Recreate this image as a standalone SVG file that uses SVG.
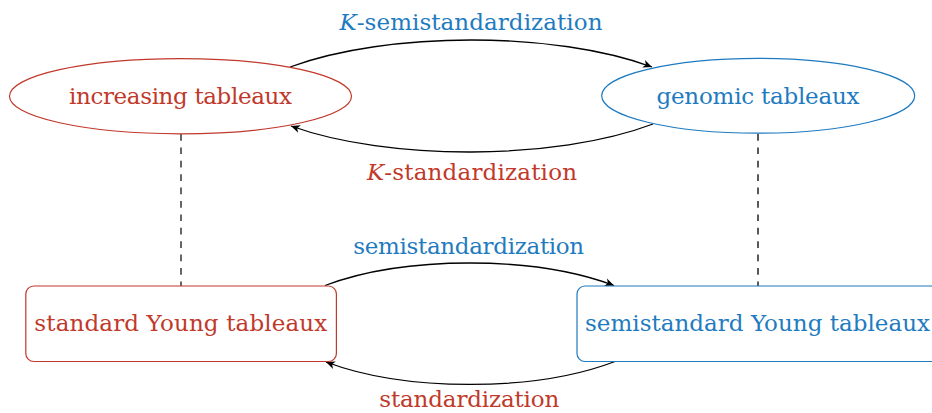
<svg xmlns="http://www.w3.org/2000/svg" width="932" height="413" viewBox="0 0 932 413">
<style>
text{font-family:'DejaVu Serif',serif;font-size:23px;text-anchor:middle}
.red{fill:#c0392b}
.blue{fill:#1f7bc0}
.rs{fill:none;stroke:#c0392b;stroke-width:1.2}
.bs{fill:none;stroke:#1f7bc0;stroke-width:1.2}
.arr{fill:none;stroke:#000;stroke-width:1.3;marker-end:url(#ah)}
.it{font-style:italic}
</style>
<defs>
<marker id="ah" viewBox="-10 -5 12 10" refX="0" refY="0" markerWidth="12" markerHeight="10" markerUnits="userSpaceOnUse" orient="auto">
<path d="M0,0 L-9,-4 L-6.5,0 L-9,4 Z" fill="#000"/>
</marker>
</defs>
<rect width="932" height="413" fill="#fff"/>
<g id="connectors">
<line x1="181" y1="134" x2="181" y2="286" stroke="#666" stroke-width="2" stroke-dasharray="6.7 6.7"/>
<line x1="758" y1="134" x2="758" y2="286" stroke="#000" stroke-width="1.3" stroke-dasharray="6.7 6.7"/>
<path class="arr" d="M290,67 C388,31 555,31 652,67"/>
<path class="arr" d="M653,124 C555,161 388,161 291,126"/>
<path class="arr" d="M325,285.5 C405,255.5 534,255.5 614,285.5"/>
<path class="arr" d="M615,361.5 C535,392 406,392 326,362"/>
<text class="blue" x="471" y="30" textLength="263"><tspan class="it">K</tspan>-semistandardization</text>
<text class="red" x="472" y="180" textLength="210"><tspan class="it">K</tspan>-standardization</text>
<text class="blue" x="468.7" y="254" textLength="231">semistandardization</text>
<text class="red" x="469.3" y="407" textLength="180">standardization</text>
</g>
<g id="increasing">
<ellipse class="rs" cx="180.5" cy="96.2" rx="171" ry="37.6"/>
<text class="red" x="180.5" y="104" textLength="223">increasing tableaux</text>
</g>
<g id="genomic">
<ellipse class="bs" cx="758.2" cy="95.8" rx="156.5" ry="37.4"/>
<text class="blue" x="758" y="104" textLength="203">genomic tableaux</text>
</g>
<g id="standard">
<rect class="rs" x="25.8" y="286" width="310.6" height="75.5" rx="8"/>
<text class="red" x="180.8" y="331" textLength="293">standard Young tableaux</text>
</g>
<g id="semistandard">
<rect class="bs" x="577" y="286" width="362" height="75.5" rx="8"/>
<text class="blue" x="757.5" y="331" textLength="345">semistandard Young tableaux</text>
</g>
</svg>
